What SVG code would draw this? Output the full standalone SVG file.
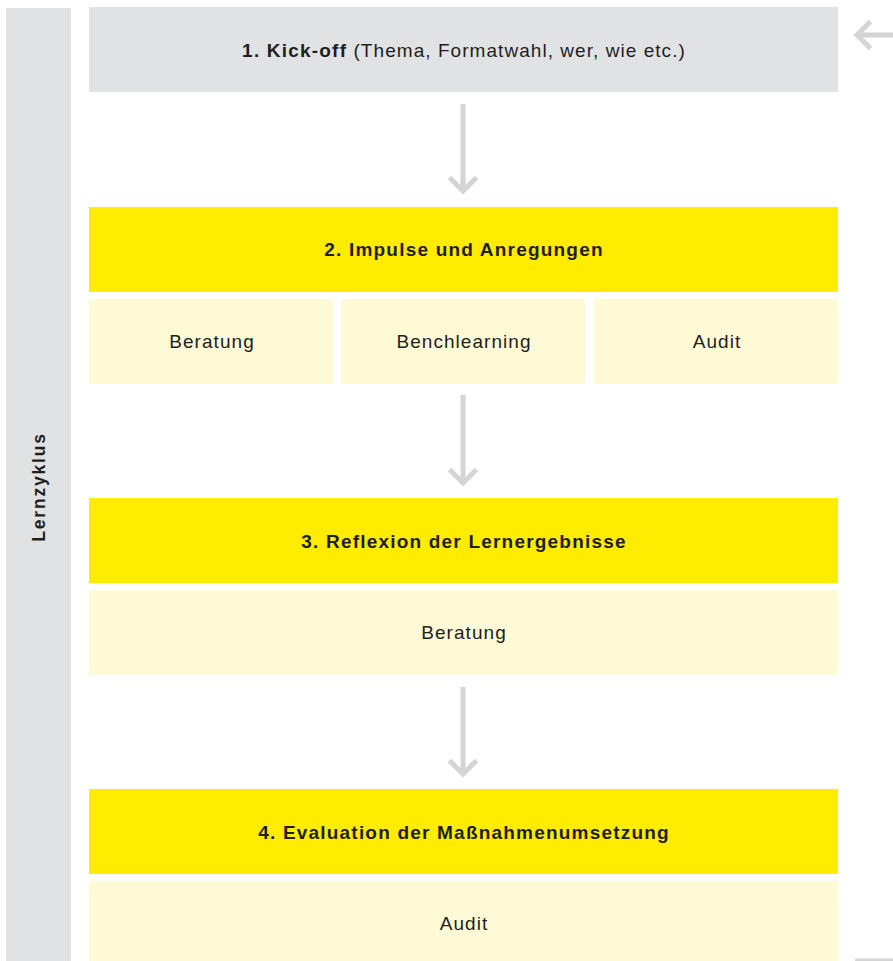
<svg xmlns="http://www.w3.org/2000/svg" width="893" height="961" viewBox="0 0 893 961">
  <style>
    .bar { fill: #e1e2e3; }
    .head { fill: #ffec00; }
    .sub { fill: #fffad6; }
    .t { font-family: "Liberation Sans", Arial, sans-serif; font-size: 19px; letter-spacing: 1.05px; fill: #1e1e1e; text-anchor: middle; dominant-baseline: central; }
    .b { font-weight: bold; letter-spacing: 1.2px; }
    .arrow { fill: none; stroke: #d4d4d4; stroke-width: 5; }
  </style>
  <rect width="893" height="961" fill="#ffffff"/>

  <!-- side label -->
  <g id="lernzyklus">
    <rect class="bar" x="6" y="8" width="65" height="953"/>
    <text class="t b" transform="translate(39 487) rotate(-90)" style="font-size:17.5px;letter-spacing:1.8px">Lernzyklus</text>
  </g>

  <!-- step 1 -->
  <g id="kickoff">
    <rect class="bar" x="89" y="7" width="749" height="85"/>
    <text class="t" x="464" y="50"><tspan class="b">1. Kick-off</tspan> (Thema, Formatwahl, wer, wie etc.)</text>
  </g>

  <!-- step 2 -->
  <g id="impulse">
    <rect class="head" x="89" y="207" width="749" height="85"/>
    <text class="t b" x="464" y="249">2. Impulse und Anregungen</text>
  </g>
  <g id="impulse-beratung">
    <rect class="sub" x="89" y="299" width="244" height="85"/>
    <text class="t" x="212" y="341">Beratung</text>
  </g>
  <g id="impulse-benchlearning">
    <rect class="sub" x="341" y="299" width="244" height="85"/>
    <text class="t" x="464" y="341">Benchlearning</text>
  </g>
  <g id="impulse-audit">
    <rect class="sub" x="594" y="299" width="244" height="85"/>
    <text class="t" x="717" y="341">Audit</text>
  </g>

  <!-- step 3 -->
  <g id="reflexion">
    <rect class="head" x="89" y="498" width="749" height="85"/>
    <text class="t b" x="464" y="541">3. Reflexion der Lernergebnisse</text>
  </g>
  <g id="reflexion-beratung">
    <rect class="sub" x="89" y="590" width="749" height="85"/>
    <text class="t" x="464" y="632">Beratung</text>
  </g>

  <!-- step 4 -->
  <g id="evaluation">
    <rect class="head" x="89" y="789" width="749" height="85"/>
    <text class="t b" x="464" y="832">4. Evaluation der Maßnahmenumsetzung</text>
  </g>
  <g id="evaluation-audit">
    <rect class="sub" x="89" y="881" width="749" height="80"/>
    <text class="t" x="464" y="923">Audit</text>
  </g>

  <!-- connectors -->
  <g id="connectors">
    <path class="arrow" d="M463 104V191M449.5 177.5L463 191L476.5 177.5"/>
    <path class="arrow" d="M463 395V483M449.5 469.5L463 483L476.5 469.5"/>
    <path class="arrow" d="M463 687V774M449.5 760.5L463 774L476.5 760.5"/>
    <path class="arrow" d="M893 35H857M870.5 21.5L857 35L870.5 48.5"/>
    <path class="arrow" d="M855 961H893"/>
  </g>
</svg>
